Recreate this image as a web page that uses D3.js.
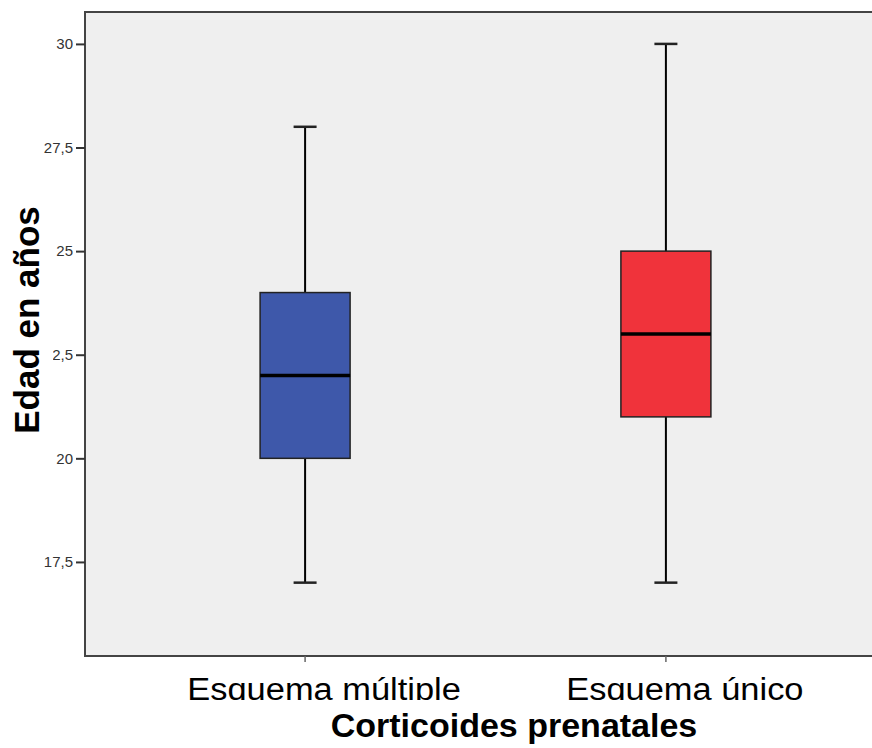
<!DOCTYPE html>
<html>
<head>
<meta charset="utf-8">
<script src="https://cdn.jsdelivr.net/npm/d3@7"></script>
<style>
  html, body { margin: 0; padding: 0; background: #fff; }
  svg { display: block; font-family: "Liberation Sans", Arial, sans-serif; }
</style>
</head>
<body>
<div id="chart"></div>
<script>
// ── data ──
var groups = ['Esquema múltiple', 'Esquema único'];
var whiskerLow = [17, 17];
var q1 = [20, 21];
var median = [22, 23];
var q3 = [24, 25];
var whiskerHigh = [28, 30];
var boxColors = ['#3e58aa', '#f0333b'];
var yTicks = [17.5, 20, 22.5, 25, 27.5, 30];

var W = 872, H = 748;
var plot = { left: 85, top: 12, right: 886, bottom: 656 };

var svg = d3.select('#chart').append('svg')
  .attr('width', W).attr('height', H);

var x = d3.scalePoint().domain(groups)
  .range([plot.left, plot.right]).padding(0.61);
var y = d3.scaleLinear().domain([15.23, 30.77])
  .range([plot.bottom, plot.top]);

// plot background
svg.append('rect')
  .attr('x', plot.left).attr('y', plot.top)
  .attr('width', plot.right - plot.left).attr('height', plot.bottom - plot.top)
  .attr('fill', '#efefef').attr('stroke', '#444').attr('stroke-width', 2);

// y axis
var yAxis = svg.append('g')
  .attr('transform', 'translate(' + plot.left + ',0)')
  .call(d3.axisLeft(y).tickValues(yTicks).tickSize(9).tickPadding(3)
    .tickFormat(function(d) { return String(d).replace('.', ','); }));
yAxis.select('.domain').remove();
yAxis.selectAll('line').attr('stroke', '#333').attr('stroke-width', 2);
yAxis.selectAll('text').attr('font-size', 15).attr('fill', '#333')
  .attr('font-family', '"Liberation Sans", Arial, sans-serif');

// x category ticks
svg.selectAll('.xtick').data(groups).join('line')
  .attr('x1', function(d) { return x(d); }).attr('x2', function(d) { return x(d); })
  .attr('y1', plot.bottom).attr('y2', plot.bottom + 6)
  .attr('stroke', '#666').attr('stroke-width', 1.5);

// boxes
var boxW = 90, capW = 23;
var idx = d3.range(groups.length);
var bg = svg.append('g');

bg.selectAll('.whisker').data(idx).join('line')
  .attr('x1', function(i) { return x(groups[i]); })
  .attr('x2', function(i) { return x(groups[i]); })
  .attr('y1', function(i) { return y(whiskerLow[i]); })
  .attr('y2', function(i) { return y(whiskerHigh[i]); })
  .attr('stroke', '#000').attr('stroke-width', 2);

[whiskerLow, whiskerHigh].forEach(function(arr) {
  bg.append('g').selectAll('line').data(idx).join('line')
    .attr('x1', function(i) { return x(groups[i]) - capW / 2; })
    .attr('x2', function(i) { return x(groups[i]) + capW / 2; })
    .attr('y1', function(i) { return y(arr[i]); })
    .attr('y2', function(i) { return y(arr[i]); })
    .attr('stroke', '#222').attr('stroke-width', 2.5);
});

bg.selectAll('.box').data(idx).join('rect')
  .attr('x', function(i) { return x(groups[i]) - boxW / 2; })
  .attr('y', function(i) { return y(q3[i]); })
  .attr('width', boxW)
  .attr('height', function(i) { return y(q1[i]) - y(q3[i]); })
  .attr('fill', function(i) { return boxColors[i]; })
  .attr('stroke', '#222').attr('stroke-width', 1.5);

bg.selectAll('.median').data(idx).join('line')
  .attr('x1', function(i) { return x(groups[i]) - boxW / 2; })
  .attr('x2', function(i) { return x(groups[i]) + boxW / 2; })
  .attr('y1', function(i) { return y(median[i]); })
  .attr('y2', function(i) { return y(median[i]); })
  .attr('stroke', '#000').attr('stroke-width', 3.5);

// x category labels (bottom clipped like the source, slightly stretched wide)
svg.append('clipPath').attr('id', 'lblclip')
  .append('rect').attr('x', 0).attr('y', 660).attr('width', W).attr('height', 40);
var lbl = svg.append('g').attr('clip-path', 'url(#lblclip)')
  .selectAll('text').data(groups).join('text')
  .attr('x', function(d) { return x(d) + 19; })
  .attr('y', 700)
  .attr('text-anchor', 'middle')
  .attr('font-size', 31)
  .attr('fill', '#000')
  .text(function(d) { return d; });
lbl.each(function() {
  var len = this.getComputedTextLength();
  d3.select(this).attr('textLength', len * 1.11).attr('lengthAdjust', 'spacingAndGlyphs');
});

// axis titles
svg.append('text')
  .attr('x', 514).attr('y', 737)
  .attr('text-anchor', 'middle')
  .attr('font-size', 34).attr('font-weight', 'bold')
  .text('Corticoides prenatales');

svg.append('rect')
  .attr('x', 4).attr('y', 300).attr('width', 49).attr('height', 140)
  .attr('fill', '#fff');
svg.append('text')
  .attr('transform', 'translate(39,320) rotate(-90)')
  .attr('text-anchor', 'middle')
  .attr('font-size', 35).attr('font-weight', 'bold')
  .text('Edad en años');
</script>
</body>
</html>
